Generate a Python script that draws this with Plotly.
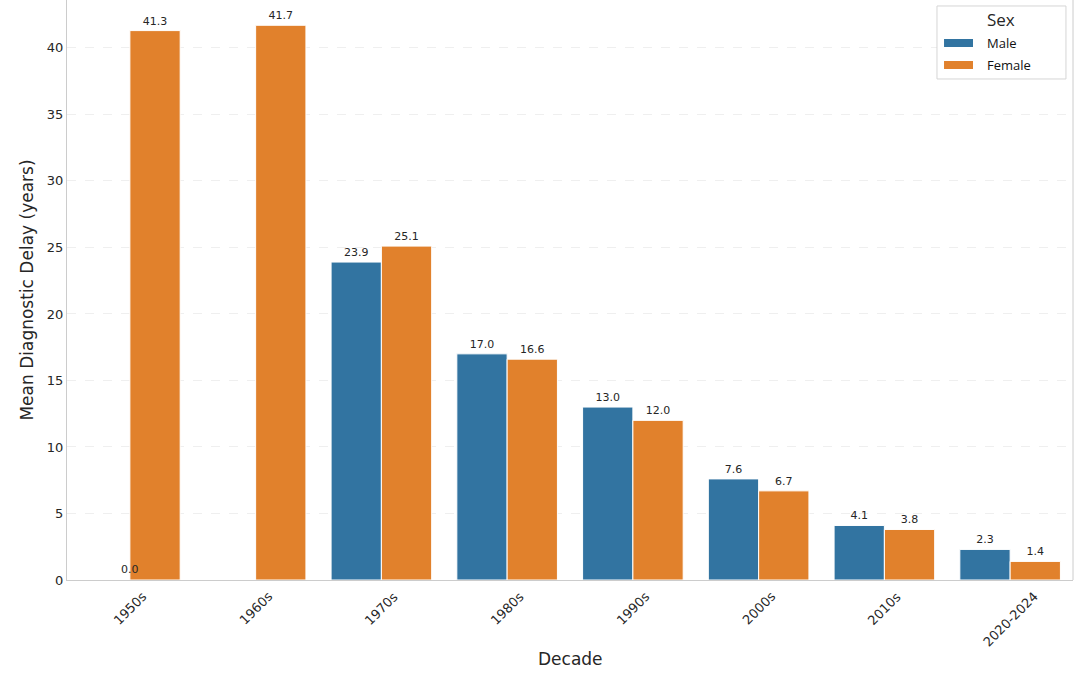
import plotly.graph_objects as go

decades = ["1950s", "1960s", "1970s", "1980s", "1990s", "2000s", "2010s", "2020-2024"]
male = [None, None, 23.9, 17.0, 13.0, 7.6, 4.1, 2.3]
female = [41.3, 41.7, 25.1, 16.6, 12.0, 6.7, 3.8, 1.4]
zero_label_decade = "1950s"
zero_label_value = 0.0
series_names = ["Male", "Female"]

male_color = "#3274A1"
female_color = "#E1812C"
font_family = "DejaVu Sans"
text_color = "#262626"

fig = go.Figure()
fig.add_trace(go.Bar(
    x=decades, y=male, name=series_names[0], showlegend=False,
    marker=dict(color=male_color, line=dict(color="white", width=1)),
    text=[f"{v:.1f}" if v is not None else "" for v in male],
    textposition="outside", cliponaxis=False,
    textfont=dict(size=11, color=text_color, family=font_family),
))
fig.add_trace(go.Bar(
    x=decades, y=female, name=series_names[1], showlegend=False,
    marker=dict(color=female_color, line=dict(color="white", width=1)),
    text=[f"{v:.1f}" for v in female],
    textposition="outside", cliponaxis=False,
    textfont=dict(size=11, color=text_color, family=font_family),
))
fig.add_annotation(
    x=zero_label_decade, y=zero_label_value, xref="x", yref="y",
    text=f"{zero_label_value:.1f}", showarrow=False, yanchor="bottom", yshift=2,
    font=dict(size=11, color=text_color, family=font_family),
)

# rotated category labels centred under each group (matplotlib style)
for d in decades:
    fig.add_annotation(
        x=d, y=0, xref="x", yref="paper", text=d, showarrow=False,
        textangle=-45, xanchor="center", yanchor="top", yshift=-6,
        font=dict(size=13, color=text_color, family=font_family),
    )

# x axis title
fig.add_annotation(
    x=0.5, y=-0.136, xref="paper", yref="paper", text="Decade", showarrow=False,
    xanchor="center", yanchor="middle",
    font=dict(size=17, color=text_color, family=font_family),
)

# custom legend with wide rectangular swatches
fig.add_shape(type="rect", xref="paper", yref="paper",
              x0=0.8648, x1=0.9930, y0=0.8638, y1=0.9897,
              line=dict(color="#d5d5d5", width=1), fillcolor="white", layer="above")
fig.add_annotation(x=0.9284, y=0.967, xref="paper", yref="paper", text="Sex",
                   showarrow=False, xanchor="center", yanchor="middle",
                   font=dict(size=17, color=text_color, family="Open Sans"))
legend_rows = [(series_names[0], male_color, 0.9259), (series_names[1], female_color, 0.8879)]
for name, col, yc in legend_rows:
    fig.add_shape(type="rect", xref="paper", yref="paper",
                  x0=0.8718, x1=0.9006, y0=yc - 0.0069, y1=yc + 0.0069,
                  line=dict(width=0), fillcolor=col, layer="above")
    fig.add_annotation(x=0.9125, y=yc, xref="paper", yref="paper", text=name,
                       showarrow=False, xanchor="left", yanchor="middle",
                       font=dict(size=13, color="#111111", family="Open Sans"))

fig.update_layout(
    width=1074, height=682,
    margin=dict(l=67, r=1, t=0, b=102, autoexpand=False),
    plot_bgcolor="white", paper_bgcolor="white",
    barmode="group", bargap=0.2, bargroupgap=0.0,
    font=dict(family=font_family, color=text_color),
    showlegend=False,
    xaxis=dict(
        showticklabels=False,
        showline=True, linecolor="#cccccc", linewidth=1, mirror=False,
        ticks="", showgrid=False,
    ),
    yaxis=dict(
        title=dict(text="Mean Diagnostic Delay (years)", font=dict(size=17), standoff=8),
        range=[0, 43.6], tick0=0, dtick=5, tickfont=dict(size=13),
        showline=True, linecolor="#cccccc", linewidth=1,
        showgrid=True, gridcolor="#efefef", griddash="dash", gridwidth=1,
        zeroline=False, ticks="",
    ),
)
fig.add_shape(type="line", xref="paper", yref="paper", x0=1, x1=1, y0=0, y1=1,
              line=dict(color="#cccccc", width=1))

fig.write_html("out.html", config={"displayModeBar": False},
               post_script="document.body.style.margin='0';")
